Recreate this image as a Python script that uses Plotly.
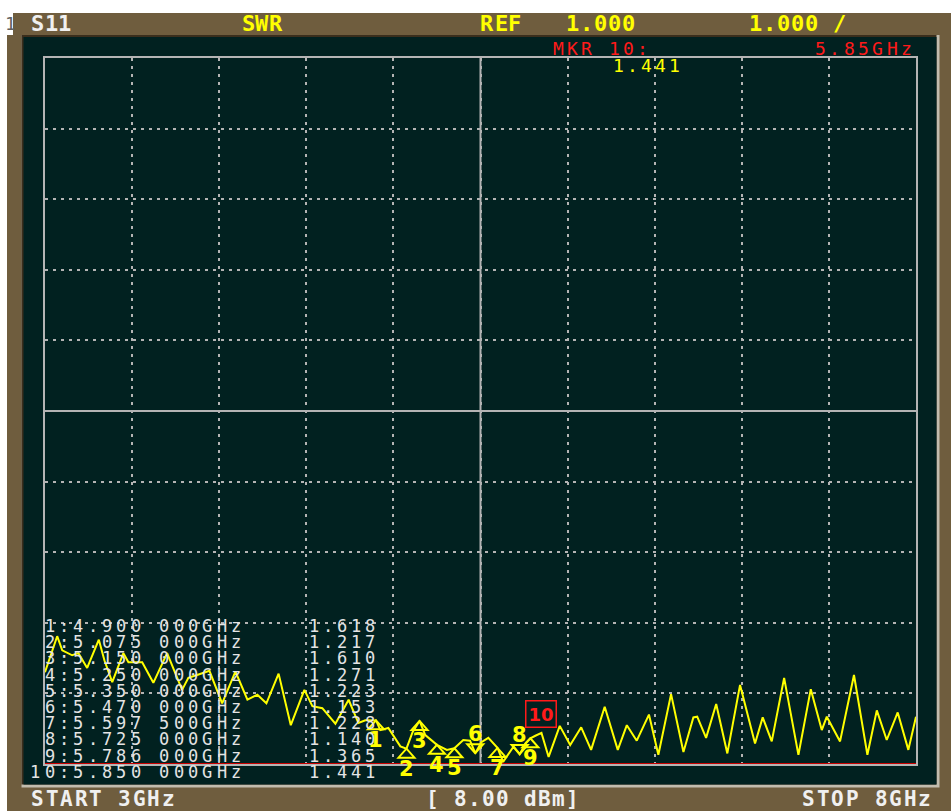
import plotly.graph_objects as go

# ---- S11 sweep, SWR vs frequency (GHz) ----
freq_ghz = [
    3.000, 3.070, 3.099, 3.127, 3.156, 3.192, 3.242, 3.309, 3.341, 3.386,
    3.450, 3.479, 3.558, 3.622, 3.701, 3.787, 3.823, 3.873, 3.944, 4.017,
    4.093, 4.162, 4.219, 4.271, 4.341, 4.411, 4.489, 4.535, 4.592, 4.667,
    4.743, 4.799, 4.839, 4.925, 4.971, 5.040, 5.110, 5.183, 5.307, 5.401,
    5.440, 5.505, 5.545, 5.630, 5.690, 5.760, 5.815, 5.891, 5.955, 6.015,
    6.078, 6.135, 6.213, 6.288, 6.340, 6.397, 6.467, 6.521, 6.594, 6.665,
    6.722, 6.744, 6.795, 6.853, 6.917, 6.990, 7.076, 7.120, 7.172, 7.243,
    7.325, 7.396, 7.459, 7.488, 7.564, 7.644, 7.721, 7.775, 7.832, 7.895,
    7.956, 8.000,
]
swr = [
    2.30, 2.81, 2.61, 2.57, 2.54, 2.57, 2.36, 2.76, 2.47, 2.16,
    2.57, 2.44, 2.44, 2.15, 2.57, 2.05, 2.22, 2.26, 2.32, 1.86,
    2.31, 1.91, 1.98, 1.86, 2.28, 1.55, 2.05, 1.82, 1.79, 1.57,
    1.91, 1.58, 1.62, 1.48, 1.51, 1.25, 1.45, 1.41, 1.20, 1.34,
    1.33, 1.31, 1.37, 1.03, 1.25, 1.30, 1.40, 1.10, 1.54, 1.27,
    1.52, 1.20, 1.81, 1.20, 1.55, 1.33, 1.70, 1.13, 1.99, 1.17,
    1.66, 1.67, 1.37, 1.85, 1.15, 2.12, 1.29, 1.66, 1.32, 2.22,
    1.13, 2.06, 1.48, 1.67, 1.32, 2.26, 1.13, 1.76, 1.34, 1.73,
    1.20, 1.67,
]

# ---- markers ----
marker_ids = [1, 2, 3, 4, 5, 6, 7, 8, 9, 10]
marker_freq = [4.900, 5.075, 5.150, 5.250, 5.350, 5.470, 5.5975, 5.725, 5.786, 5.850]
marker_swr = [1.618, 1.217, 1.610, 1.271, 1.223, 1.153, 1.228, 1.140, 1.365, 1.441]
marker_dir = ["up", "up", "up", "up", "up", "down", "up", "down", "up", "active"]
active_marker = 10

# ---- instrument annotations ----
start_ghz, stop_ghz = 3, 8
ref_value, scale_per_div = 1.000, 1.000
source_power = "[ 8.00 dBm]"

# ---- colours ----
FRAME = "#6f5d3e"
SCREEN = "#012120"
GRID = "#b4b4b4"
YELLOW = "#ffff00"
RED = "#ff1a1a"
WHITE = "#f0f0f0"
TABLE = "#e4e4e4"

W_FIG, H_FIG = 951, 811
L, T, PW, PH = 45, 58, 871, 706


def px_x(px):
    return (px - L) / PW


def px_y(py):
    return (T + PH - py) / PH


annotations = []


def add_text(s, x_left, y_mid, pitch, color, size, weight="normal", glyph_w=11):
    """Fixed-pitch screen text: each character centred in its own cell."""
    for i, ch in enumerate(s):
        if ch == " ":
            continue
        annotations.append(dict(
            xref="paper", yref="paper",
            x=px_x(x_left + i * pitch + glyph_w / 2), y=px_y(y_mid),
            text=ch, showarrow=False, xanchor="center", yanchor="middle",
            font=dict(family="DejaVu Sans Mono", size=size, color=color, weight=weight),
        ))


def rect(x0, y0, x1, y1, color):
    return dict(type="rect", xref="paper", yref="paper", layer="below",
                x0=px_x(x0), x1=px_x(x1), y0=px_y(y0), y1=px_y(y1),
                fillcolor=color, line=dict(width=0))


shapes = [
    rect(7, 13, 951, 811, FRAME),
    rect(21.5, 35, 939.5, 787.5, "#c2bcae"),
    rect(21.5, 35, 936.5, 784.5, "#3a2e1c"),
    rect(23.5, 37, 936.5, 784.5, SCREEN),
    rect(7, 13, 13, 35, "#ffffff"),
    # solid centre graticule lines
    dict(type="line", xref="x", yref="y", layer="below",
         x0=(start_ghz + stop_ghz) / 2, x1=(start_ghz + stop_ghz) / 2, y0=1, y1=11,
         line=dict(color=GRID, width=2)),
    dict(type="line", xref="x", yref="y", layer="below",
         x0=start_ghz, x1=stop_ghz, y0=6, y1=6, line=dict(color=GRID, width=2)),
    # reference level line and pointer
    dict(type="line", xref="x", yref="y", x0=start_ghz, x1=stop_ghz,
         y0=ref_value, y1=ref_value, line=dict(color="#c80000", width=2)),
    dict(type="path", xref="x", yref="y", xsizemode="pixel", ysizemode="pixel",
         xanchor=start_ghz, yanchor=ref_value, path="M -2,0 L -8,5 L -8,-5 Z",
         line=dict(color=YELLOW, width=1.5), fillcolor="rgba(0,0,0,0)"),
]

# merge marker readings into the trace so it passes through each readout
pts = sorted(zip(freq_ghz + marker_freq, swr + marker_swr))
trace_f = [p[0] for p in pts]
trace_s = [p[1] for p in pts]

fig = go.Figure()
fig.add_trace(go.Scatter(x=trace_f, y=trace_s, mode="lines",
                         line=dict(color=YELLOW, width=2), hoverinfo="skip"))

label_font = dict(family="DejaVu Sans", size=21, color=YELLOW, weight="bold")

# marker symbols and numbers
for mid, f, v, d in zip(marker_ids, marker_freq, marker_swr, marker_dir):
    if d == "up":
        shapes.append(dict(type="path", xref="x", yref="y", xsizemode="pixel",
                           ysizemode="pixel", xanchor=f, yanchor=v,
                           path="M 0,0 L 8,-9 L -8,-9 Z",
                           line=dict(color=YELLOW, width=2), fillcolor="rgba(0,0,0,0)"))
        annotations.append(dict(xref="x", yref="y", x=f, y=v, yshift=-20, text=str(mid),
                                showarrow=False, xanchor="center", yanchor="middle",
                                font=label_font))
    elif d == "down":
        shapes.append(dict(type="path", xref="x", yref="y", xsizemode="pixel",
                           ysizemode="pixel", xanchor=f, yanchor=v,
                           path="M 0,0 L 8,9 L -8,9 Z",
                           line=dict(color=YELLOW, width=2), fillcolor="rgba(0,0,0,0)"))
        annotations.append(dict(xref="x", yref="y", x=f, y=v, yshift=19, text=str(mid),
                                showarrow=False, xanchor="center", yanchor="middle",
                                font=label_font))
    else:
        annotations.append(dict(xref="x", yref="y", x=f, y=v, yshift=5, text=str(mid),
                                showarrow=False, xanchor="center", yanchor="bottom",
                                bordercolor=RED, borderwidth=1.5, borderpad=2,
                                font=dict(family="DejaVu Sans", size=18, color=RED,
                                          weight="bold")))

# header bar
add_text("S11", 32, 23.5, 13.5, WHITE, 22, "bold")
add_text("SWR", 243, 23.5, 13.5, YELLOW, 22, "bold")
add_text("REF", 482, 23.5, 13.5, YELLOW, 22, "bold")
add_text(f"{ref_value:.3f}", 567, 23.5, 14, YELLOW, 22, "bold")
add_text(f"{scale_per_div:.3f} /", 750, 23.5, 14, YELLOW, 22, "bold")

# active marker readout
ai = marker_ids.index(active_marker)
add_text(f"MKR {active_marker}:", 553, 48.5, 14, RED, 18)
add_text(f"{marker_freq[ai]:.2f}GHz", 815, 48.5, 14.3, RED, 18)
add_text(f"{marker_swr[ai]:.3f}", 613, 65, 14, YELLOW, 18)

# marker table
for i, (mid, f, v) in enumerate(zip(marker_ids, marker_freq, marker_swr)):
    fs = f"{f:.6f}"
    row = f"{mid}:{fs[:5]} {fs[5:]}GHz"
    y = 626 + i * 16.2
    x0 = 44 - (len(str(mid)) - 1) * 14.35
    add_text(row, x0, y, 14.35, TABLE, 17)
    add_text(f"{v:.3f}", 308, y, 14.2, TABLE, 17)

# footer bar
add_text(f"START {start_ghz}GHz", 32, 798.5, 14.5, WHITE, 21, "bold")
add_text(source_power, 427, 798.5, 14, WHITE, 21, "bold")
add_text(f"STOP {stop_ghz}GHz", 803, 798.5, 14.5, WHITE, 21, "bold")
add_text("1", 5, 24, 10, "#606060", 18)

axis_common = dict(showgrid=True, gridcolor=GRID, gridwidth=2, griddash="3px,5px",
                   zeroline=False, showticklabels=False, ticks="",
                   showline=True, linecolor=GRID, linewidth=2, mirror=True,
                   fixedrange=True)

fig.update_layout(
    width=W_FIG, height=H_FIG, autosize=False,
    margin=dict(l=L, r=W_FIG - L - PW, t=T, b=H_FIG - T - PH, pad=0),
    paper_bgcolor="#ffffff", plot_bgcolor=SCREEN,
    showlegend=False,
    xaxis=dict(range=[start_ghz, stop_ghz], dtick=0.5, tick0=start_ghz, **axis_common),
    yaxis=dict(range=[1, 11], dtick=1, tick0=1, **axis_common),
    shapes=shapes,
    annotations=annotations,
)

fig.write_html("out.html", config={"displayModeBar": False, "staticPlot": True})
